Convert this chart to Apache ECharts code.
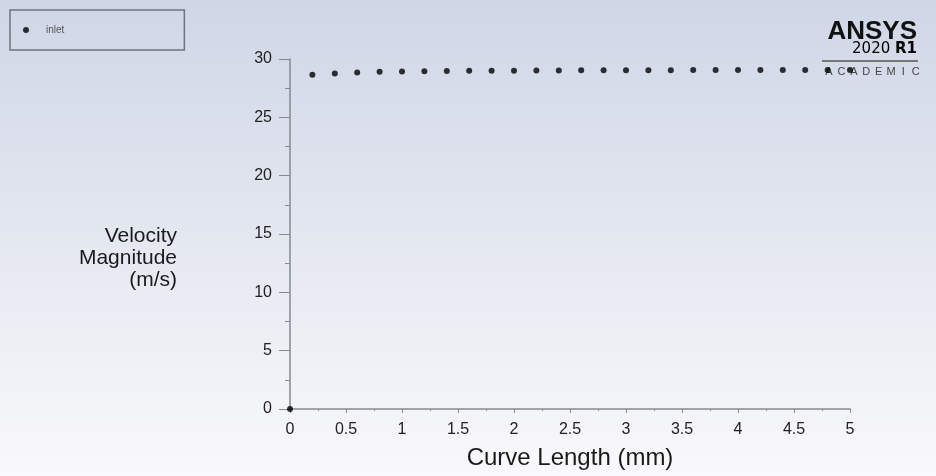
<!DOCTYPE html>
<html>
<head>
<meta charset="utf-8">
<script src="https://cdn.jsdelivr.net/npm/echarts@6/dist/echarts.min.js"></script>
<style>html,body{margin:0;padding:0;}#c{width:936px;height:476px;}</style>
</head>
<body>
<div id="c"></div>
<script>
const seriesName = 'inlet';
const xValues = [0, 0.2, 0.4, 0.6, 0.8, 1.0, 1.2, 1.4, 1.6, 1.8, 2.0, 2.2, 2.4, 2.6, 2.8, 3.0, 3.2, 3.4, 3.6, 3.8, 4.0, 4.2, 4.4, 4.6, 4.8, 5.0];
const yValues = [0, 28.65, 28.76, 28.85, 28.9, 28.92, 28.96, 28.97, 28.99, 29.0, 29.0, 29.02, 29.02, 29.03, 29.03, 29.04, 29.04, 29.04, 29.05, 29.05, 29.05, 29.05, 29.05, 29.05, 29.05, 29.05];
const xTitle = 'Curve Length (mm)';
const yTitle = 'Velocity\nMagnitude\n(m/s)';

const chart = echarts.init(document.getElementById('c'));
const font = '"Liberation Sans", Arial, sans-serif';
const academic = 'ACADEMIC';
const academicEls = academic.split('').map((ch, i) => ({
  type: 'text', z: 0,
  style: { text: ch, x: 829 + i * 12.4, y: 72, fill: '#444', font: '11px ' + font, align: 'center', verticalAlign: 'middle' }
}));

chart.setOption({
  backgroundColor: {
    type: 'linear', x: 0, y: 0, x2: 0, y2: 1,
    colorStops: [{ offset: 0, color: '#cfd6e6' }, { offset: 1, color: '#f9f9fb' }]
  },
  animation: false,
  textStyle: { fontFamily: font },
  grid: { left: 290, right: 86, top: 59, bottom: 67, containLabel: false, outerBoundsMode: 'none' },
  legend: {
    left: 10, top: 10,
    data: [{ name: seriesName, icon: 'circle' }],
    itemWidth: 6, itemHeight: 6,
    padding: [15, 120, 15, 13],
    backgroundColor: 'rgba(0,0,0,0)',
    borderColor: '#6f747c', borderWidth: 1.5, borderRadius: 0,
    textStyle: { fontSize: 10, color: '#555', padding: [0, 0, 0, 12] }
  },
  xAxis: {
    type: 'value', min: 0, max: 5, interval: 0.5,
    name: xTitle, nameLocation: 'middle', nameGap: 37, nameMoveOverlap: false,
    nameTextStyle: { fontSize: 24, color: '#1a1a1a' },
    axisLine: { show: true, lineStyle: { color: '#858890', width: 1.5 } },
    axisTick: { show: true, length: 4, lineStyle: { color: '#858890' } },
    minorTick: { show: true, splitNumber: 2, length: 2, lineStyle: { color: '#858890' } },
    axisLabel: { fontSize: 16, color: '#222', margin: 13 },
    splitLine: { show: false }
  },
  yAxis: {
    type: 'value', min: 0, max: 30, interval: 5,
    name: yTitle, nameLocation: 'middle', nameGap: 0, nameRotate: 0, nameMoveOverlap: false,
    nameTextStyle: { fontSize: 21, color: '#1a1a1a', align: 'right', verticalAlign: 'top', lineHeight: 22, padding: [-9, 113, 0, 0] },
    axisLine: { show: true, lineStyle: { color: '#858890', width: 1.5 } },
    axisTick: { show: true, length: 11, lineStyle: { color: '#858890' } },
    minorTick: { show: true, splitNumber: 2, length: 5, lineStyle: { color: '#858890' } },
    axisLabel: { fontSize: 16, color: '#222', margin: 18 },
    splitLine: { show: false }
  },
  graphic: [
    { type: 'text', z: 0, style: { text: 'ANSYS', x: 917, y: 32, fill: '#111', font: 'bold 26px ' + font, align: 'right', verticalAlign: 'middle' } },
    { type: 'text', z: 0, style: { text: '{a|2020 }{b|R1}', x: 917, y: 49, align: 'right', verticalAlign: 'middle', rich: { a: { fontSize: 15, fontFamily: 'DejaVu Sans', color: '#333' }, b: { fontSize: 15, fontWeight: 'bold', fontFamily: 'DejaVu Sans', color: '#222' } } } },
    { type: 'line', z: 0, shape: { x1: 822, y1: 61, x2: 918, y2: 61 }, style: { stroke: '#777', lineWidth: 2 } }
  ].concat(academicEls),
  series: [{
    name: seriesName, type: 'scatter', symbol: 'circle', symbolSize: 6,
    itemStyle: { color: '#000' },
    data: xValues.map((x, i) => [x, yValues[i]])
  }]
});
</script>
</body>
</html>
